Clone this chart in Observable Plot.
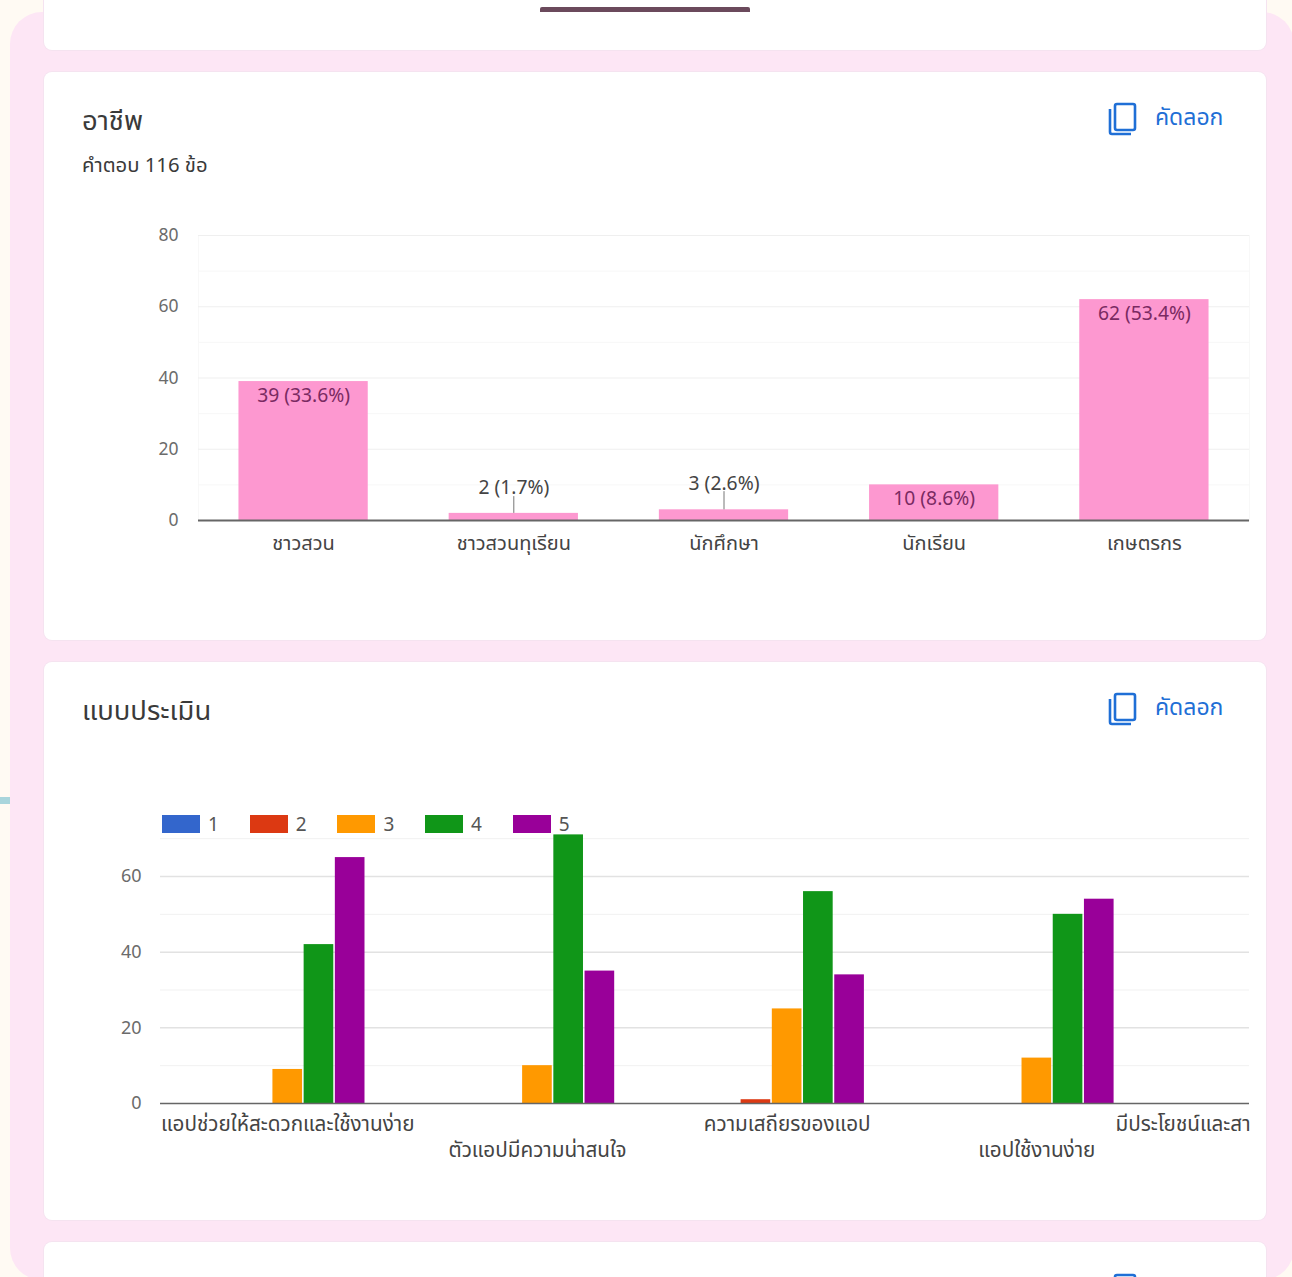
<!DOCTYPE html>
<html lang="th">
<head>
<meta charset="utf-8">
<title>อาชีพ และ แบบประเมิน</title>
<script src="https://cdn.jsdelivr.net/npm/d3@7"></script>
<script src="https://cdn.jsdelivr.net/npm/@observablehq/plot@0.6"></script>
<style>
  html, body { margin: 0; padding: 0; width: 1292px; height: 1277px; overflow: hidden; background: #fffaf3; }
  body { position: relative; font-family: "Noto Sans Thai", "Noto Sans", "Liberation Sans", sans-serif; color: #202124; }
  .abs { position: absolute; }
  #panel { left: 10px; top: 12px; width: 1284px; height: 1268px; background: #fde6f5; border-radius: 32px; }
  .card { left: 44px; width: 1222px; background: #fff; border-radius: 8px; box-shadow: 0 0 0 1px #f5e3f0; }
  #tab { left: 540px; top: 7px; width: 210px; height: 5px; background: #6b4a5c; border-radius: 2px 2px 0 0; }
  #tick { left: 0; top: 797px; width: 10px; height: 7px; background: #a9d5dc; }
  .title { left: 82px; font-size: 27.4px; line-height: 34px; white-space: nowrap; color: #3a3a3a; }
  .sub { left: 82px; font-size: 20.3px; line-height: 26px; white-space: nowrap; color: #3a3a3a; }
  .copy { left: 1155px; font-size: 23px; line-height: 28px; color: #1f6fd6; white-space: nowrap; }
  .icon { left: 1107px; width: 32px; height: 34px; }
  #legend { left: 162px; top: 815px; display: flex; gap: 0; }
  .item { display: flex; align-items: center; width: 87.7px; font-size: 19px; line-height: 18px; color: #555; }
  .item span { position: relative; top: 2px; left: -1px; }
  .sw { width: 38px; height: 18px; margin-right: 9px; }
</style>
</head>
<body>
<div class="abs" id="panel"></div>
<div class="abs card" style="top:-20px;height:70px"></div>
<div class="abs card" style="top:72px;height:568px"></div>
<div class="abs card" style="top:662px;height:558px"></div>
<div class="abs card" style="top:1242px;height:80px"></div>
<div class="abs" id="tab"></div>
<div class="abs" id="tick"></div>

<div class="abs title" style="top:105px">อาชีพ</div>
<div class="abs sub" style="top:153px">คำตอบ 116 ข้อ</div>
<div class="abs title" style="top:695px">แบบประเมิน</div>

<div class="abs copy" style="top:104px">คัดลอก</div>
<div class="abs copy" style="top:694px">คัดลอก</div>
<svg class="abs icon" style="top:102px" viewBox="0 0 32 34" fill="none" stroke="#1f6fd6" stroke-width="2.6"><rect x="8" y="2" width="20" height="26" rx="2"/><path d="M3 7v23a2 2 0 0 0 2 2h19"/></svg>
<svg class="abs icon" style="top:692px" viewBox="0 0 32 34" fill="none" stroke="#1f6fd6" stroke-width="2.6"><rect x="8" y="2" width="20" height="26" rx="2"/><path d="M3 7v23a2 2 0 0 0 2 2h19"/></svg>
<svg class="abs icon" style="top:1273px" viewBox="0 0 32 34" fill="none" stroke="#1f6fd6" stroke-width="2.6"><rect x="8" y="2" width="20" height="26" rx="2"/><path d="M3 7v23a2 2 0 0 0 2 2h19"/></svg>

<div class="abs" id="chart1" style="left:120px;top:225px"></div>
<div class="abs" id="chart2" style="left:100px;top:820px"></div>
<div class="abs" id="legend"></div>

<script>
// ---- occupation chart ----
const jobs = ["ชาวสวน", "ชาวสวนทุเรียน", "นักศึกษา", "นักเรียน", "เกษตรกร"];
const jobCounts = [39, 2, 3, 10, 62];
const jobLabels = ["39 (33.6%)", "2 (1.7%)", "3 (2.6%)", "10 (8.6%)", "62 (53.4%)"];
const jobTicks = [0, 20, 40, 60, 80];
const jobGrid = [10, 30, 50, 70];
// label height and leader ends for the two short bars, read in value units
const jobOutside = ["ชาวสวนทุเรียน", "นักศึกษา"];
const outsideLabelAt = [9.3, 10.4];
const leaderTop = [6.7, 8.1];

// ---- assessment chart ----
const items = [
  "แอปช่วยให้สะดวกและใช้งานง่าย",
  "ตัวแอปมีความน่าสนใจ",
  "ความเสถียรของแอป",
  "แอปใช้งานง่าย",
  "มีประโยชน์และสา"
];
const scores = ["1", "2", "3", "4", "5"];
const scoreColors = ["#3366cc", "#dc3912", "#ff9900", "#109618", "#990099"];
const score1 = [0, 0, 0, 0];
const score2 = [0, 0, 1, 0];
const score3 = [9, 10, 25, 12];
const score4 = [42, 71, 56, 50];
const score5 = [65, 35, 34, 54];
const scoreTicks = [0, 20, 40, 60];
const scoreGrid = [10, 30, 50, 70];

const fontFamily = `"Noto Sans Thai", "Noto Sans", "Liberation Sans", sans-serif`;

// chart 1
const jobRows = jobs.map((job, i) => ({job, count: jobCounts[i], label: jobLabels[i]}));
const outsideRows = jobOutside.map((job, i) => ({
  job,
  count: jobCounts[jobs.indexOf(job)],
  label: jobLabels[jobs.indexOf(job)],
  labelAt: outsideLabelAt[i],
  top: leaderTop[i]
}));
const insideRows = jobRows.filter(d => !jobOutside.includes(d.job));

const chart1 = Plot.plot({
  width: 1130, height: 335,
  marginLeft: 78, marginRight: 1, marginTop: 10, marginBottom: 40,
  style: {fontFamily, fontSize: "16px", background: "transparent", overflow: "visible"},
  x: {domain: jobs, paddingInner: 0.385, paddingOuter: 0.1925, round: false, label: null},
  y: {domain: [0, 80], label: null},
  marks: [
    Plot.frame({stroke: "#f8f8f8"}),
    Plot.ruleY(jobGrid, {stroke: "#f7f7f7", strokeWidth: 1}),
    Plot.ruleY(jobTicks.slice(1), {stroke: "#efefef", strokeWidth: 1}),
    Plot.barY(jobRows, {x: "job", y: "count", fill: "#fd98d0"}),
    Plot.ruleX(outsideRows, {x: "job", y1: d => d.count, y2: "top", stroke: "#777", strokeWidth: 1}),
    Plot.text(outsideRows, {x: "job", y: "labelAt", text: "label", fill: "#444", fontSize: 19.3}),
    Plot.text(insideRows, {x: "job", y: "count", text: "label", fill: "#7a2a62", fontSize: 19.3, dy: 14}),
    Plot.ruleY([0], {stroke: "#666", strokeWidth: 2}),
    Plot.axisY({ticks: jobTicks, tickSize: 0, tickPadding: 20, label: null, color: "#6b6b6b", fontSize: 17.5}),
    Plot.axisX({tickSize: 0, tickPadding: 15, label: null, color: "#444", fontSize: 20})
  ]
});
document.getElementById("chart1").append(chart1);

// chart 2: each item takes eight equal slots along x, five bars and three blanks,
// and the axis runs past the right edge so the fifth item is cut off as in the source
const slots = items.flatMap(item => [`${item}|a`, ...scores.map(s => `${item}|${s}`), `${item}|b`, `${item}|c`]);
const scoreSeries = [score1, score2, score3, score4, score5];
const scoreRows = scoreSeries.flatMap((values, s) =>
  values.map((value, i) => ({slot: `${items[i]}|${scores[s]}`, score: scores[s], value}))
);
const labelRow = list => list.map(item => ({slot: `${item}|3`, item}));

const chart2 = Plot.plot({
  width: 1150, height: 350,
  marginLeft: 60, marginRight: 1, marginTop: 10.6, marginBottom: 67,
  style: {fontFamily, fontSize: "16px", background: "transparent"},
  x: {type: "band", domain: slots, range: [78, 1326.5], paddingInner: 0.05, paddingOuter: 0.025, round: false, axis: null, label: null},
  y: {domain: [0, 72], label: null},
  color: {domain: scores, range: scoreColors},
  marks: [
    Plot.ruleY(scoreGrid, {stroke: "#f1f1f1", strokeWidth: 1}),
    Plot.ruleY(scoreTicks.slice(1), {stroke: "#e2e2e2", strokeWidth: 1.5}),
    Plot.barY(scoreRows.filter(d => d.value > 0), {x: "slot", y: "value", fill: "score"}),
    Plot.ruleY([0], {stroke: "#666", strokeWidth: 1.5}),
    Plot.axisY({ticks: scoreTicks, tickSize: 0, tickPadding: 19, label: null, color: "#6b6b6b", fontSize: 18}),
    Plot.text(labelRow([items[0], items[2]]), {x: "slot", y: () => 0, text: "item", dy: 21, fill: "#444", fontSize: 20.7}),
    Plot.text(labelRow([items[1], items[3]]), {x: "slot", y: () => 0, text: "item", dy: 47, fill: "#444", fontSize: 20.7}),
    Plot.text(labelRow([items[4]]), {x: "slot", y: () => 0, text: "item", textAnchor: "end", dx: -36, dy: 21, fill: "#444", fontSize: 20.7})
  ]
});
document.getElementById("chart2").append(chart2);

// legend built from the same series arrays
const legend = d3.select("#legend");
scores.forEach((s, i) => {
  const row = legend.append("div").attr("class", "item");
  row.append("div").attr("class", "sw").style("background", scoreColors[i]);
  row.append("span").text(s);
});
</script>
</body>
</html>
